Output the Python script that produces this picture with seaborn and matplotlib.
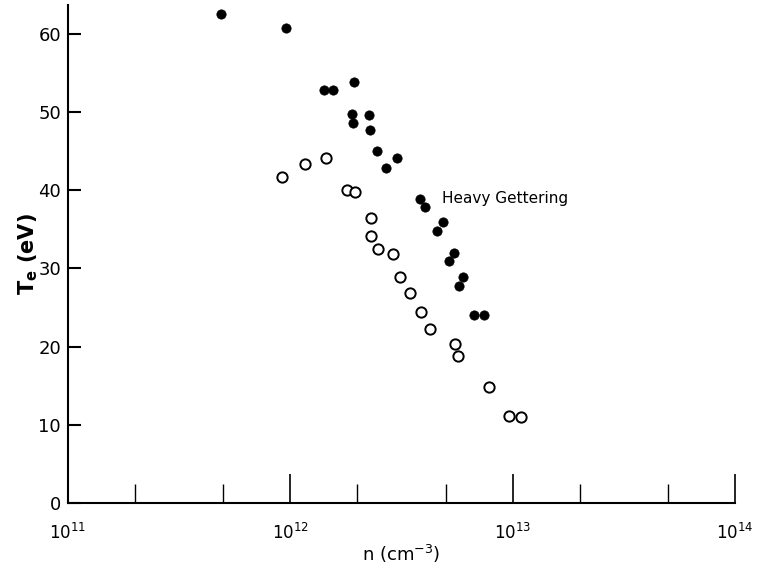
import matplotlib
matplotlib.use("Agg")
import matplotlib.pyplot as plt
import seaborn as sns
import numpy as np
import pandas as pd
from matplotlib.ticker import LogLocator, NullFormatter, FixedLocator

# Heavy gettering (filled circles)
filled_n = [4.86e11, 9.57e11, 1.42e12, 1.56e12, 1.93e12, 1.90e12, 1.91e12, 2.27e12,
            2.28e12, 2.46e12, 2.69e12, 3.01e12, 3.82e12, 4.04e12, 4.88e12, 4.56e12,
            5.45e12, 5.16e12, 5.98e12, 5.73e12, 6.68e12, 7.41e12]
filled_T = [62.5, 60.7, 52.8, 52.8, 53.8, 49.8, 48.6, 49.6,
            47.7, 45.0, 42.9, 44.1, 38.9, 37.8, 35.9, 34.8,
            32.0, 30.9, 28.9, 27.8, 24.0, 24.0]

# Open circles
open_n = [9.2e11, 1.16e12, 1.44e12, 1.80e12, 1.95e12, 2.31e12, 2.30e12, 2.49e12,
          2.91e12, 3.11e12, 3.47e12, 3.88e12, 4.24e12, 5.49e12, 5.68e12, 7.83e12,
          9.67e12, 1.09e13]
open_T = [41.7, 43.3, 44.1, 40.1, 39.8, 36.5, 34.2, 32.5,
          31.9, 28.9, 26.9, 24.4, 22.2, 20.4, 18.8, 14.9,
          11.1, 11.0]

y_ticks = [0, 10, 20, 30, 40, 50, 60]
x_major = [1e11, 1e12, 1e13, 1e14]
x_labels = [r"$10^{11}$", r"$10^{12}$", r"$10^{13}$", r"$10^{14}$"]

sns.set_style("ticks")
plt.rcParams['font.family'] = ['DejaVu Sans']
plt.rcParams['text.color'] = 'black'
plt.rcParams['axes.labelcolor'] = 'black'
plt.rcParams['xtick.color'] = 'black'
plt.rcParams['ytick.color'] = 'black'

fig = plt.figure(figsize=(7.57, 5.64), dpi=100)
ax = fig.add_axes([68/757, 1-503/564, (735-68)/757, (503-5)/564])

df_open = pd.DataFrame({"n": open_n, "T": open_T})
df_filled = pd.DataFrame({"n": filled_n, "T": filled_T})

sns.scatterplot(data=df_open, x="n", y="T", ax=ax, s=55, marker="o",
                facecolor="white", edgecolor="black", linewidth=1.4, zorder=3)
sns.scatterplot(data=df_filled, x="n", y="T", ax=ax, s=45, marker="o",
                color="black", edgecolor="black", linewidth=0.5, zorder=4)

ax.set_xscale("log")
ax.set_xlim(1e11, 1e14)
ax.set_ylim(0, 63.7)

ax.xaxis.set_major_locator(FixedLocator(x_major))
ax.set_xticklabels(x_labels)
ax.xaxis.set_minor_locator(LogLocator(base=10, subs=(2.0, 5.0)))
ax.xaxis.set_minor_formatter(NullFormatter())
ax.set_yticks(y_ticks)

ax.tick_params(axis="x", which="major", direction="in", length=21, width=1.2,
               labelsize=12, pad=14, colors="black")
ax.tick_params(axis="x", which="minor", direction="in", length=14, width=1.0)
ax.tick_params(axis="y", which="major", direction="in", length=9.5, width=1.5,
               labelsize=13, pad=5, colors="black")

for s in ["top", "right"]:
    ax.spines[s].set_visible(False)
for s in ["left", "bottom"]:
    ax.spines[s].set_linewidth(1.5)
    ax.spines[s].set_color("black")

ax.set_xlabel(r"n (cm$^{-3}$)", fontsize=13, labelpad=0, color="black")
ax.set_ylabel(r"T$_{\mathbf{e}}$ (eV)", fontsize=15, fontweight="bold", labelpad=-1,
              color="black")

ax.text(4.81e12, 39.0, "Heavy Gettering", fontsize=11, ha="left", va="center",
        color="black")

fig.savefig("out.png", dpi=100)
